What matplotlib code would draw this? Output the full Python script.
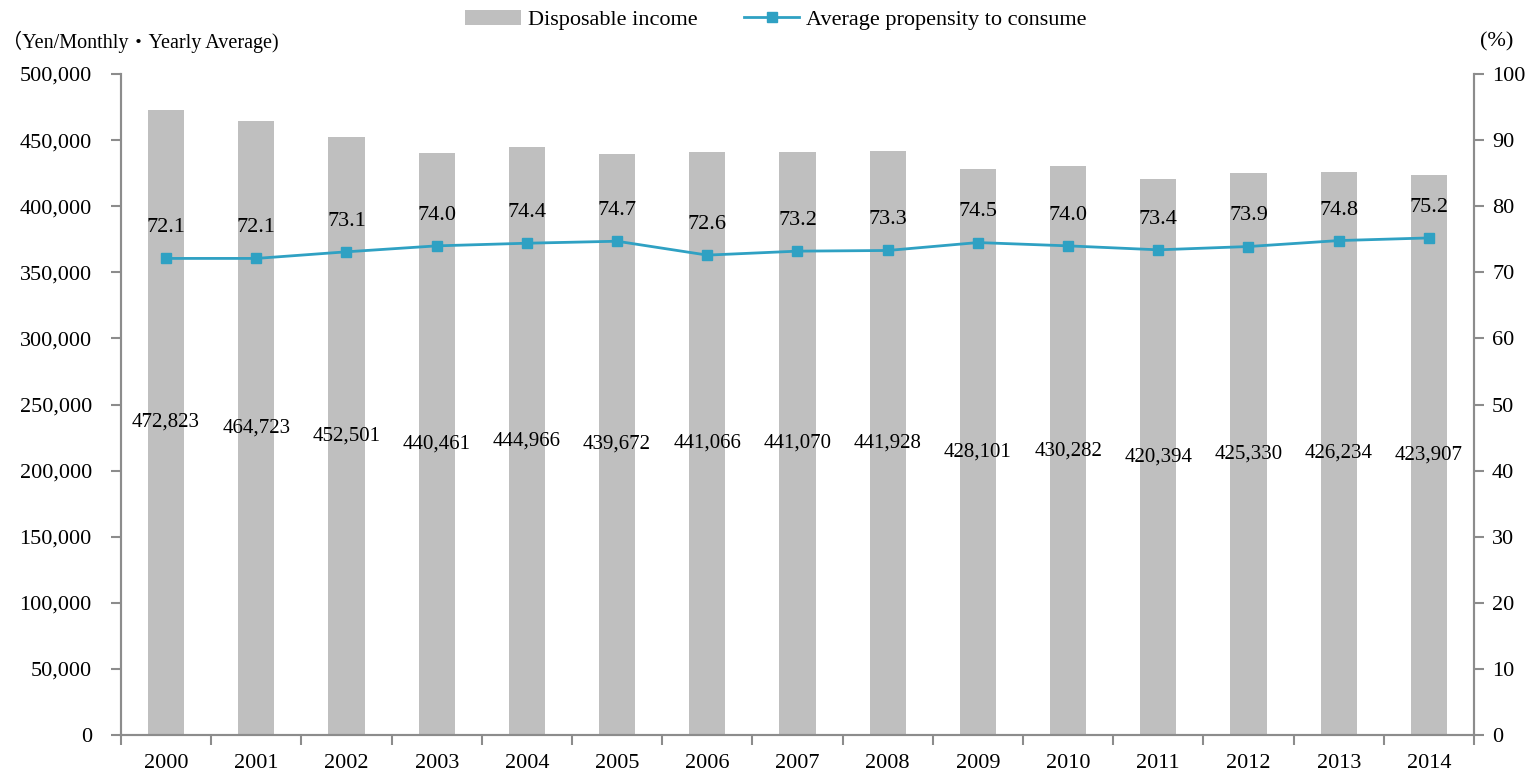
import matplotlib.pyplot as plt
import numpy as np

years = ['2000', '2001', '2002', '2003', '2004', '2005', '2006', '2007',
         '2008', '2009', '2010', '2011', '2012', '2013', '2014']
income = [472823, 464723, 452501, 440461, 444966, 439672, 441066, 441070,
          441928, 428101, 430282, 420394, 425330, 426234, 423907]
apc = [72.1, 72.1, 73.1, 74.0, 74.4, 74.7, 72.6, 73.2, 73.3, 74.5, 74.0,
       73.4, 73.9, 74.8, 75.2]

plt.rcParams['font.family'] = ['Liberation Serif', 'Noto Sans CJK JP']

bar_color = '#BFBFBF'
line_color = '#2FA1C3'
spine_color = '#8C8C8C'

fig = plt.figure(figsize=(15.3, 7.71), dpi=100)
ax = fig.add_axes([121 / 1530, 1 - 735 / 771, (1474 - 121) / 1530, (735 - 74) / 771])
ax2 = ax.twinx()

x = np.arange(len(years))
bars = ax.bar(x, income, width=0.4, color=bar_color, label='Disposable income', zorder=2)
ax.set_xlim(-0.5, len(years) - 0.5)
ax.set_ylim(0, 500000)
ax.set_yticks(np.arange(0, 500001, 50000))
ax.set_yticklabels([f'{v:,}' for v in range(0, 500001, 50000)], fontsize=16)
ax.set_xticks(x)
ax.set_xticklabels(years, fontsize=16)
ax.tick_params(axis='x', length=0, pad=14)
ax.set_xticks(np.arange(-0.5, len(years)), minor=True)
ax.tick_params(axis='x', which='minor', length=7, width=1.5, color=spine_color, direction='out')
ax.tick_params(axis='y', length=7, width=1.5, color=spine_color, pad=14)

for xi, v in zip(x, income):
    ax.text(xi, v / 2, f'{v:,}', ha='center', va='center', fontsize=15, zorder=4)

line, = ax2.plot(x, apc, color=line_color, lw=2, marker='s', markersize=7.5,
                 label='Average propensity to consume', zorder=3)
ax2.set_ylim(0, 100)
ax2.set_yticks(np.arange(0, 101, 10))
ax2.set_yticklabels([str(v) for v in range(0, 101, 10)], fontsize=16)
ax2.tick_params(axis='y', length=7, width=1.5, color=spine_color, pad=6)

for xi, v in zip(x, apc):
    ax2.annotate(f'{v:.1f}', (xi, v), xytext=(0, 22), textcoords='offset points',
                 ha='center', va='center', fontsize=16)

for a in (ax, ax2):
    a.spines['top'].set_visible(False)
    for s in ('left', 'right', 'bottom'):
        a.spines[s].set_color(spine_color)
        a.spines[s].set_linewidth(1.5)

fig.legend(handles=[bars, line], loc='center', bbox_to_anchor=(776 / 1530, 1 - 20 / 771),
           ncol=2, frameon=False, fontsize=16, handlelength=2.5, columnspacing=2.1,
           handletextpad=0.3)

fig.text(2 / 1530, 1 - 42 / 771, '（Yen/Monthly・Yearly Average)', fontsize=14.5,
         ha='left', va='center')
fig.text(1497 / 1530, 1 - 42 / 771, '(%)', fontsize=16, ha='center', va='center')

fig.savefig('out.png', dpi=100)
